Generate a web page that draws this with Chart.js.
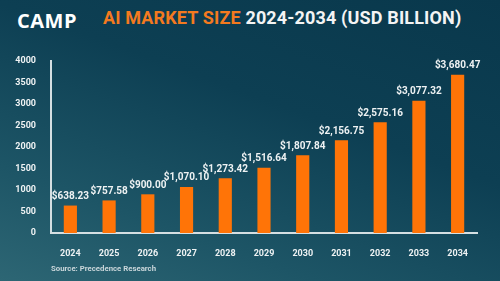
<!DOCTYPE html>
<html>
<head>
<meta charset="utf-8">
<script src="https://cdn.jsdelivr.net/npm/chart.js@4/dist/chart.umd.min.js"></script>
<style>
  html,body{margin:0;padding:0;}
  body{width:500px;height:281px;overflow:hidden;position:relative;
    background:linear-gradient(200deg,#09384c 0%,#0d3f53 40%,#1d5566 75%,#2d6674 100%);
    font-family:Roboto,sans-serif;}
  #wrap{position:absolute;left:0;top:0;width:500px;height:281px;}
  #logo{position:absolute;left:17px;top:7px;color:#ffffff;font-weight:bold;font-size:20px;font-family:"Open Sans",sans-serif;letter-spacing:0.5px;}
  #title{position:absolute;left:103px;top:7px;font-weight:bold;font-size:18px;color:#f4f4f4;white-space:nowrap;letter-spacing:0.15px;}
  #title .o{color:#f47a1f;}
  #source{position:absolute;left:51px;top:264px;font-size:7.8px;font-weight:bold;color:#c9d6da;}
</style>
</head>
<body>
<div id="logo">CAMP</div>
<div id="title"><span class="o">AI MARKET SIZE</span> 2024-2034 (USD BILLION)</div>
<div id="wrap"><canvas id="c" width="500" height="281"></canvas></div>
<div id="source">Source: Precedence Research</div>
<script>
const categories = ["2024","2025","2026","2027","2028","2029","2030","2031","2032","2033","2034"];
const marketSize = [638.23, 757.58, 900.00, 1070.10, 1273.42, 1516.64, 1807.84, 2156.75, 2575.16, 3077.32, 3680.47];
const yTicks = [0, 500, 1000, 1500, 2000, 2500, 3000, 3500, 4000];

const FONT = 'Roboto,sans-serif';

const valueLabels = {
  id: 'valueLabels',
  afterDatasetsDraw(chart) {
    const ctx = chart.ctx;
    const meta = chart.getDatasetMeta(0);
    ctx.save();
    ctx.fillStyle = '#eef2f3';
    ctx.font = 'bold 10px ' + FONT;
    ctx.textAlign = 'center';
    ctx.textBaseline = 'bottom';
    meta.data.forEach((bar, i) => {
      const v = marketSize[i];
      const txt = '$' + v.toLocaleString('en-US', {minimumFractionDigits: 2, maximumFractionDigits: 2});
      ctx.fillText(txt, bar.x, bar.y - 4);
    });
    ctx.restore();
  }
};

new Chart(document.getElementById('c'), {
  type: 'bar',
  data: {
    labels: categories,
    datasets: [{
      data: marketSize,
      backgroundColor: '#ff7407',
      borderWidth: 0,
      barPercentage: 0.34,
      categoryPercentage: 1.0
    }]
  },
  options: {
    responsive: false,
    animation: false,
    devicePixelRatio: 1,
    layout: { padding: { left: 0, right: 23, top: 61, bottom: 0 } },
    plugins: { legend: { display: false }, tooltip: { enabled: false }, title: { display: false } },
    scales: {
      x: {
        grid: { display: false },
        border: { display: true, color: '#d5dfe2', width: 2 },
        ticks: { color: '#eef2f3', font: { family: FONT, size: 9, weight: 'bold' }, padding: 7, maxRotation: 0 },
        afterFit(scale) { scale.height = 48; }
      },
      y: {
        min: 0, max: 4000,
        grid: { display: false },
        border: { display: true, color: '#d5dfe2', width: 2 },
        afterBuildTicks(scale) { scale.ticks = yTicks.map(v => ({ value: v })); },
        ticks: { color: '#eef2f3', font: { family: FONT, size: 9, weight: 'bold' }, padding: 7,
          callback: (v) => String(v) },
        afterFit(scale) { scale.width = 51; }
      }
    }
  },
  plugins: [valueLabels]
});
</script>
</body>
</html>
